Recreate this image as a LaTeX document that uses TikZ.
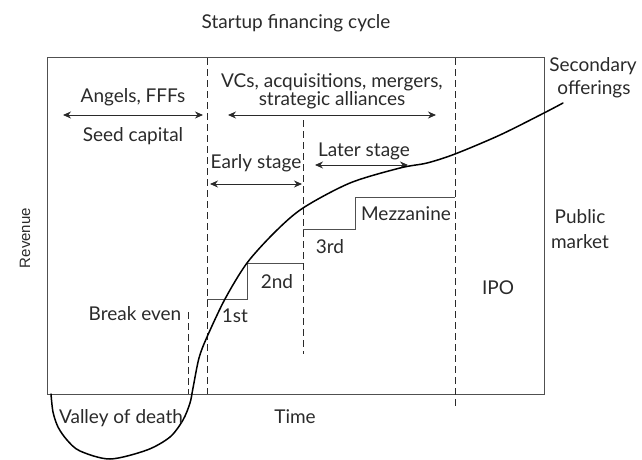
\documentclass[tikz,border=0pt]{standalone}
\usepackage{fontspec}
\setmainfont{Lato}
\newfontfamily\revfont{Liberation Sans}
\usetikzlibrary{arrows.meta}
\definecolor{txt}{HTML}{2A2A2A}
\definecolor{boxc}{HTML}{505050}
\begin{document}
\begin{tikzpicture}[x=1pt,y=-1pt,
  every node/.style={font=\fontsize{19}{22}\selectfont, text=txt, inner sep=0pt, anchor=base},
  dashln/.style={draw=txt, dash pattern=on 7pt off 4pt, line width=0.9pt},
  boxln/.style={draw=boxc, line width=1pt},
  steplnst/.style={draw=boxc, line width=1pt},
  arr/.style={draw=txt, line width=0.9pt, {Stealth[length=8pt,width=7pt]}-{Stealth[length=8pt,width=7pt]}},
  curvest/.style={draw=black, line width=1.5pt, line join=round, line cap=round}]
\useasboundingbox (0,0) rectangle (642,460);
% frame
\draw[boxln] (47,58) rectangle (544,394);
% dashed lines
\draw[dashln] (207,58) -- (207,394);
\draw[dashln] (303,120) -- (303,354);
\draw[dashln] (455,58) -- (455,407);
\draw[dashln] (188,312) -- (188,394);
% steps
\draw[steplnst] (207,299) -- (247,299) -- (247,263) -- (303,263);
\draw[steplnst] (303,229) -- (355,229) -- (355,197) -- (455,197);
% arrows
\coordinate (a1) at (63,115); \coordinate (a2) at (203,115);
\coordinate (b1) at (228,115); \coordinate (b2) at (436,115);
\coordinate (c1) at (210,184); \coordinate (c2) at (302,184);
\coordinate (d1) at (315,165); \coordinate (d2) at (408,165);
\draw[arr] (a1) -- (a2);
\draw[arr] (b1) -- (b2);
\draw[arr] (c1) -- (c2);
\draw[arr] (d1) -- (d2);
% curve
\draw[curvest] plot[smooth, tension=0.5] coordinates {
 (51,394) (53,412) (58,427) (67,440) (80,451) (110,459) (147,450) (170,437)
 (183,420) (190,403) (193,388) (199,358) (207,337) (225,299) (247,263) (275,232) (303,208) (350,183)
 (400,168) (427,163) (455,154) (500,135) (544,113) (563,103)};
% texts
\node (title) at (296,29) {Startup financing cycle};
\node (angels) at (133,102) {Angels, FFFs};
\node (seed) at (133,141.5) {Seed capital};
\node (vcs) at (332,87) {VCs, acquisitions, mergers,};
\node (strat) at (332,105) {strategic alliances};
\node (early) at (256,168) {Early stage};
\node (later) at (364,156) {Later stage};
\node (first) at (235,322) {1st};
\node (second) at (277,288) {2nd};
\node (third) at (330,253) {3rd};
\node (mezz) at (406,220) {Mezzanine};
\node (ipo) at (498,294) {IPO};
\node (public) at (580,223) {Public};
\node (market) at (580,248) {market};
\node (second1) at (593,71) {Secondary};
\node (second2) at (594,94) {offerings};
\node (breakeven) at (135,320) {Break even};
\node (valley) at (121,423) {Valley of death};
\node (time) at (295,423) {Time};
\node[rotate=90, font=\revfont\fontsize{15}{18}\selectfont, anchor=base] (rev) at (30,238) {Revenue};
\end{tikzpicture}
\end{document}
